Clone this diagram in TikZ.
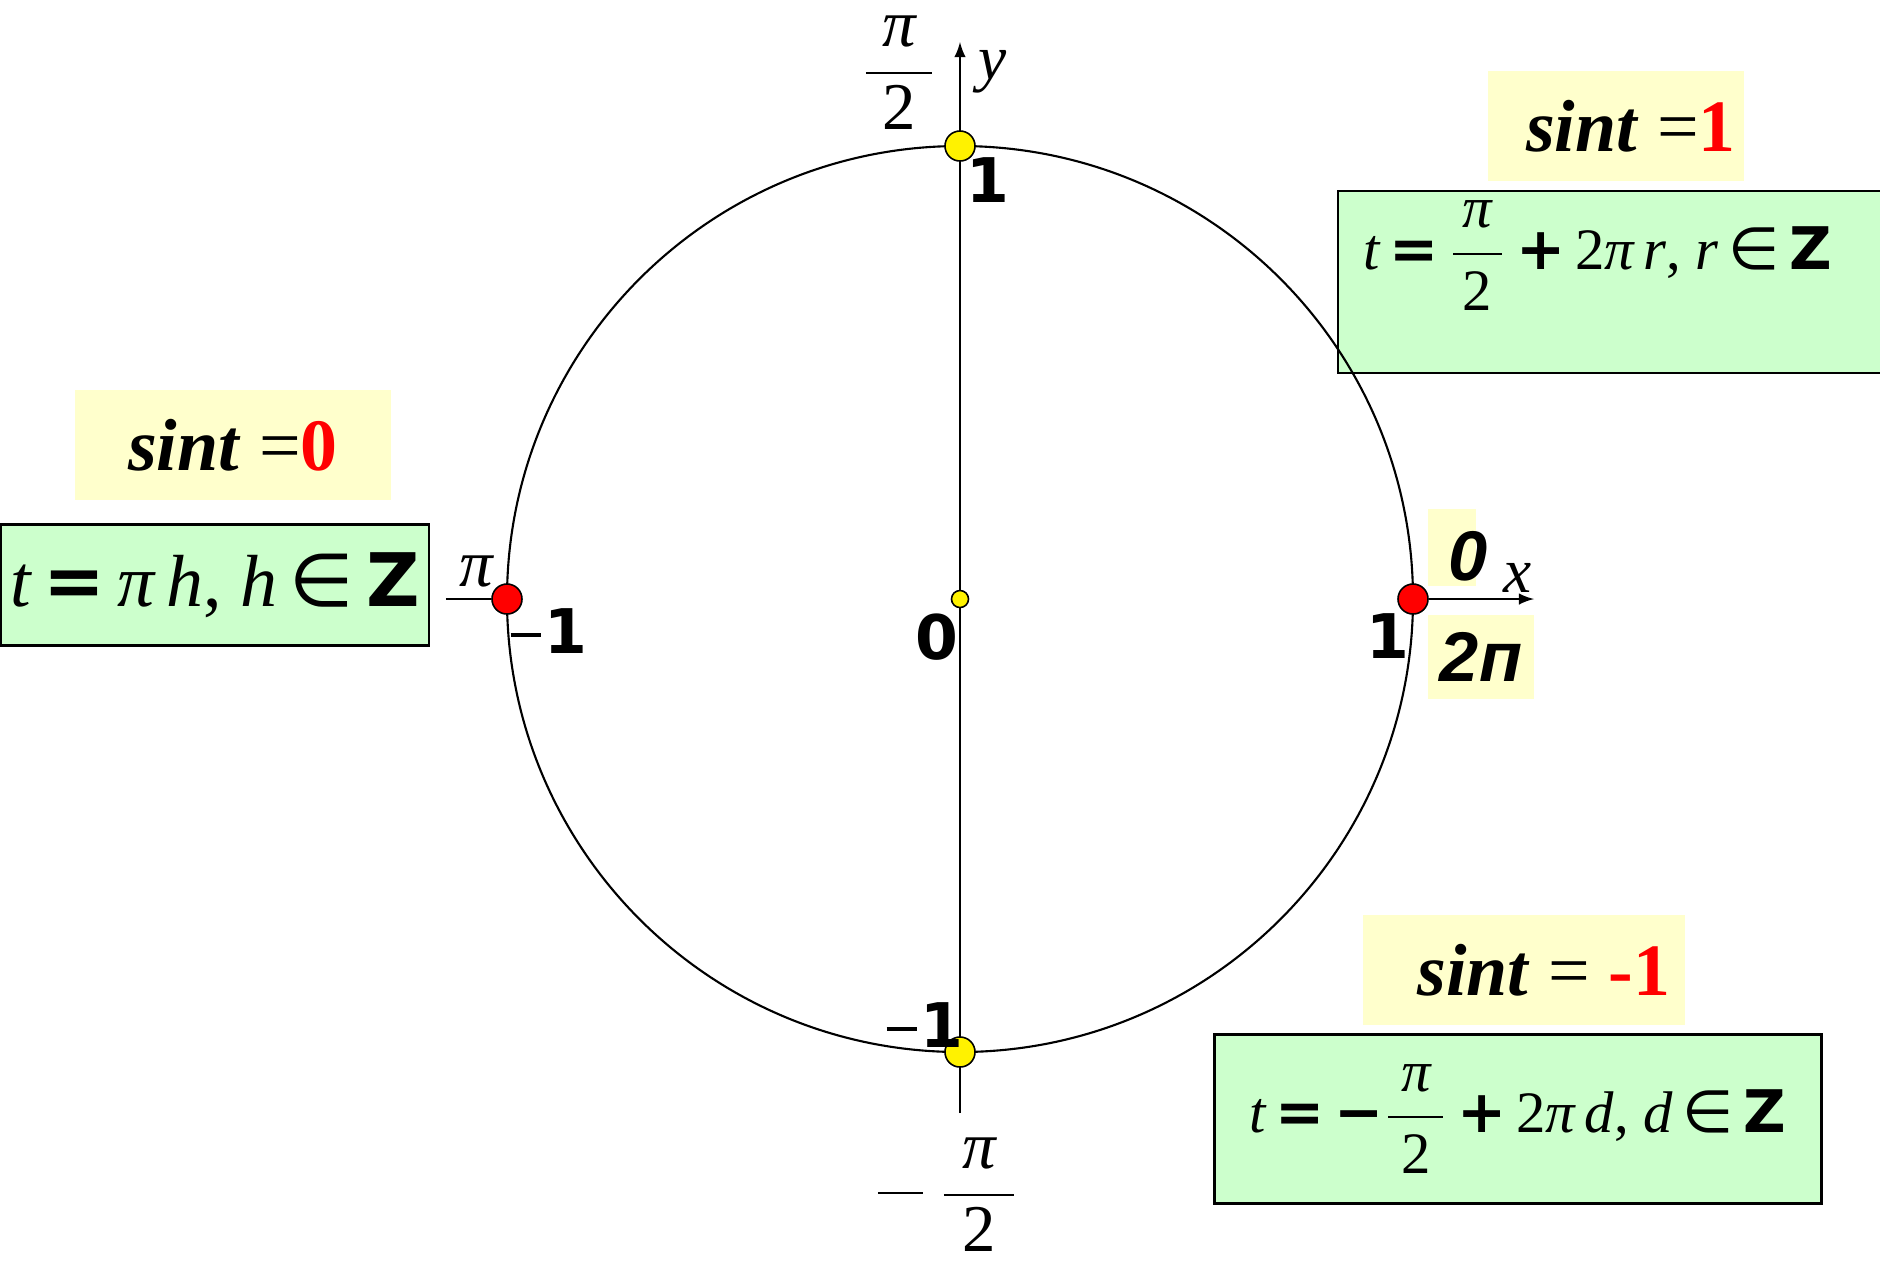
\documentclass[tikz,border=0pt]{standalone}
\usepackage{fontspec}
\setmainfont{Liberation Serif}
\newfontfamily\dvsans{DejaVu Sans}
\newfontfamily\lsans{Liberation Sans}
\definecolor{paleyellow}{HTML}{FFFFCC}
\definecolor{palegreen}{HTML}{CCFFCC}
\newcommand\sintsize{\fontsize{21}{25}\selectfont}
\newcommand\lformsize{\fontsize{21}{25}\selectfont}
\newcommand\formsize{\fontsize{16.7}{20}\selectfont}
\newcommand\axsize{\fontsize{17.5}{21}\selectfont}
\newcommand\pisize{\fontsize{19}{22}\selectfont}
\newcommand\frc[3]{{\displaystyle\frac{\hbox to #1{\hss#2\hss}}{\hbox to #1{\hss#3\hss}}}}
\newcommand\bop[1]{{\dvsans\bfseries #1}}
\newcommand\mdash{\rule[0.26em]{0.5em}{0.065em}\hspace{0.05em}}
\begin{document}
\begin{tikzpicture}[x=0.01cm,y=0.01cm,
  ybox/.style={fill=paleyellow, inner sep=0pt},
  gbox/.style={draw, line width=0.7pt, fill=palegreen, inner sep=0pt},
  ptdot/.style={circle, draw, line width=0.45pt, inner sep=0pt, minimum size=0.3cm},
  lbl/.style={inner sep=0pt}]
\useasboundingbox (-960,-663) rectangle (920,599);
\node[ybox, minimum width=2.55cm, minimum height=1.1cm, font=\sintsize] (sone) at (656,473) {\hspace{.3cm}\textbf{\textit{sint}} =\textcolor{red}{\textbf{1}}};
\node[ybox, minimum width=3.15cm, minimum height=1.09cm, font=\sintsize] (szero) at (-727,154) {\textbf{\textit{sint}} =\textcolor{red}{\textbf{0}}};
\node[ybox, minimum width=3.21cm, minimum height=1.1cm, font=\sintsize] (smone) at (564,-371) {\hspace{.4cm}\textbf{\textit{sint}} = \textcolor{red}{\textbf{-1}}};
\node[gbox, minimum width=5.64cm, minimum height=1.82cm] (gone) at (660,317) {};
\node[lbl, anchor=base west, font=\formsize] (fone) at (403,330) {{\itshape t}\,\bop{=}\,$\frc{.49cm}{\itshape π}{2}$\,\bop{+}\,2{\itshape π\,r}, {\itshape r}\,{\dvsans ∈}\,\bop{Z}};
\node[gbox, minimum width=4.28cm, minimum height=1.21cm, font=\lformsize] (gzero) at (-745,14) {{\itshape t}\,\bop{=}\,{\itshape π\,h}, {\itshape h}\,{\dvsans ∈}\,\bop{Z}};
\node[gbox, minimum width=6.07cm, minimum height=1.69cm, font=\formsize] (gmone) at (558,-520) {{\itshape t}\,\bop{=}\,\bop{−}$\frc{.55cm}{\itshape π}{2}$\,\bop{+}\,2{\itshape π\,d}, {\itshape d}\,{\dvsans ∈}\,\bop{Z}};
\draw[line width=0.6pt] (0,0) circle (453);
\coordinate (ybot) at (0,-514);
\coordinate (ytop) at (0,557);
\coordinate (xl) at (-514,0);
\coordinate (xr) at (574,0);
\draw[line width=0.5pt, -latex] (ybot) -- (ytop);
\node[ptdot, fill=yellow] (ptop) at (0,453) {};
\node[ptdot, fill=yellow] (pbot) at (0,-453) {};
\node[ptdot, fill=red] (pleft) at (-453,0) {};
\node[ptdot, fill=red] (pright) at (453,0) {};
\node[ptdot, fill=yellow, minimum size=0.17cm] (o) at (0,0) {};
\draw[line width=0.5pt] (xl) -- (pleft);
\draw[line width=0.5pt, -latex] (pright) -- (xr);
\fill[paleyellow] (468,13) rectangle (516,90);
\node[lbl, font=\fontsize{20}{24}\selectfont\lsans\bfseries\itshape] (zr) at (508,43) {0};
\node[ybox, minimum width=1.06cm, minimum height=0.84cm, font=\fontsize{20}{24}\selectfont\lsans\bfseries\itshape] (twopi) at (521,-58) {2п};
\node[lbl, font=\fontsize{18}{21}\selectfont\itshape] (xlab) at (558,21) {x};
\node[lbl, font=\fontsize{18}{21}\selectfont\itshape] (ylab) at (33,527) {y};
\node[lbl, font=\pisize] (halfpi) at (-61,526) {$\frc{.66cm}{\itshape π}{2}$};
\node[lbl, font=\pisize] (mhalfpi) at (-12,-596) {$\rule[\dimexpr0.25em-0.01cm]{0.45cm}{0.02cm}\;\frc{.70cm}{\itshape π}{2}$};
\node[lbl, font=\pisize\itshape] (pilab) at (-484,28) {π};
\node[lbl, font=\axsize\dvsans\bfseries] (one) at (28,419) {1};
\node[lbl, font=\axsize\dvsans\bfseries] (mone) at (-35,-426) {\mdash1};
\node[lbl, font=\axsize\dvsans\bfseries] (zero) at (-23,-38) {0};
\node[lbl, font=\axsize\dvsans\bfseries] (mone2) at (-411,-32) {\mdash1};
\node[lbl, font=\axsize\dvsans\bfseries] (one2) at (428,-37) {1};
\end{tikzpicture}
\end{document}
